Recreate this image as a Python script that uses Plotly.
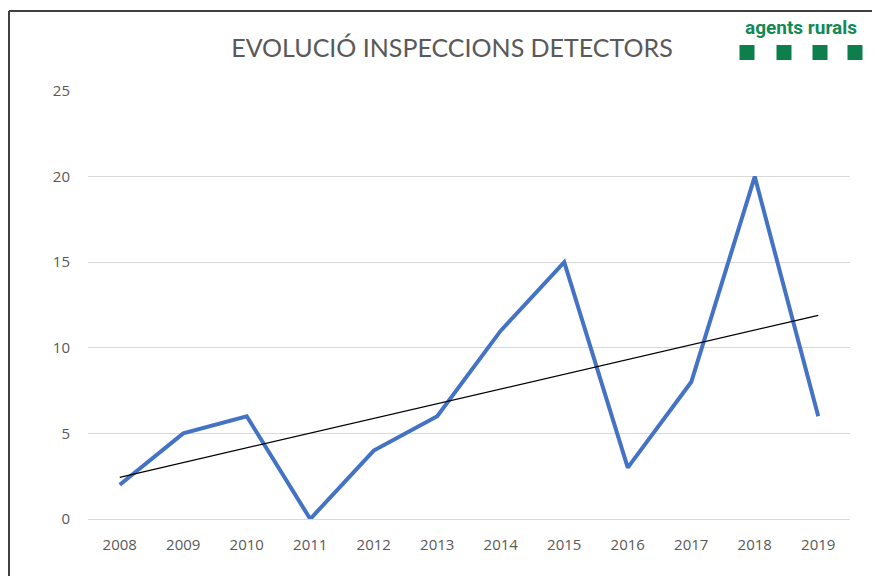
import plotly.graph_objects as go
import numpy as np

years = [2008, 2009, 2010, 2011, 2012, 2013, 2014, 2015, 2016, 2017, 2018, 2019]
inspections = [2, 5, 6, 0, 4, 6, 11, 15, 3, 8, 20, 6]
y_ticks = [0, 5, 10, 15, 20, 25]
title_text = "EVOLUCIÓ INSPECCIONS DETECTORS"
logo_text = "agents rurals"

# linear trendline (least squares) from the data
idx = np.arange(len(years))
slope, intercept = np.polyfit(idx, inspections, 1)
trend = slope * idx + intercept

OFF = 8  # page body margin
W, H = 880 - OFF, 576 - OFF
L, R, T, B = 88 - OFF, 30, 91 - OFF, 57
pw, ph = W - L - R, H - T - B

def px(x):
    return (x - OFF - L) / pw

def py(y):
    return (H - B - (y - OFF)) / ph

fig = go.Figure()
fig.add_trace(go.Scatter(x=years, y=inspections, mode="lines",
                         line=dict(color="#4472C4", width=4), showlegend=False))
fig.add_trace(go.Scatter(x=years, y=trend, mode="lines",
                         line=dict(color="#000000", width=1.2), showlegend=False))

fig.update_layout(
    width=W, height=H,
    margin=dict(l=L, r=R, t=T, b=B),
    paper_bgcolor="white", plot_bgcolor="white",
    font=dict(family="Open Sans, sans-serif", color="#595959"),
    title=dict(text=title_text, x=px(452), xref="paper", xanchor="center",
               y=1 - (48 - OFF) / H, yanchor="middle",
               font=dict(size=25, color="#595959", family="Lato, sans-serif")),
    xaxis=dict(range=[2007.5, 2019.5], tickmode="array", tickvals=years,
               ticktext=[str(y) for y in years], showgrid=False, zeroline=False,
               showline=True, linecolor="#d9d9d9", linewidth=1,
               tickfont=dict(size=15, color="#595959"), ticks="", ticklabelstandoff=12),
    yaxis=dict(range=[0, 25], tickmode="array", tickvals=y_ticks,
               showgrid=True, gridcolor="#d9d9d9", gridwidth=1, zeroline=False,
               showline=False, tickfont=dict(size=15, color="#595959"), ticks="",
               ticklabelstandoff=17),
)

# frame lines (left and top)
fig.add_shape(type="line", xref="paper", yref="paper",
              x0=px(9), x1=px(9), y0=py(11), y1=py(576), line=dict(color="#404040", width=2))
fig.add_shape(type="line", xref="paper", yref="paper",
              x0=px(9), x1=px(880), y0=py(11), y1=py(11), line=dict(color="#404040", width=2))

# logo
fig.add_annotation(text="<b>" + logo_text + "</b>", xref="paper", yref="paper",
                   x=px(801), y=py(28), xanchor="center", yanchor="middle", showarrow=False,
                   font=dict(size=19, color="#138a55", family="Roboto, sans-serif"))
for cx in [747, 784, 820, 855]:
    fig.add_shape(type="rect", xref="paper", yref="paper",
                  x0=px(cx - 7.5), x1=px(cx + 7.5), y0=py(60), y1=py(45),
                  fillcolor="#0e7f4c", line=dict(width=0))

fig.write_html("out.html")
